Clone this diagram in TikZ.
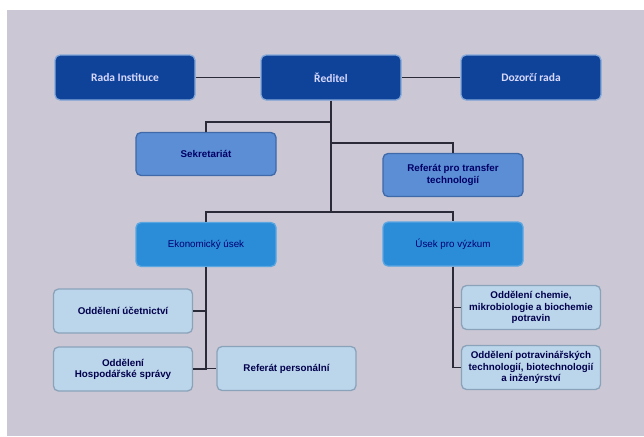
\documentclass[tikz,border=0pt]{standalone}
\usepackage{fontspec}
\setmainfont{Liberation Sans}
\newfontfamily\calibri{Carlito}
\usetikzlibrary{positioning}

\definecolor{bgcol}{HTML}{CBC7D5}
\definecolor{topfill}{HTML}{0E4399}
\definecolor{topline}{HTML}{86A9DA}
\definecolor{midfill}{HTML}{5B8ED4}
\definecolor{midline}{HTML}{3F69A8}
\definecolor{usekfill}{HTML}{2B8CD8}
\definecolor{usekline}{HTML}{5AA6E0}
\definecolor{lowfill}{HTML}{BBD5EA}
\definecolor{lowline}{HTML}{8AA3BA}
\definecolor{wire}{HTML}{2A2A38}

\tikzset{
  box/.style={rectangle, rounded corners=5pt, line width=1.3pt, align=center,
    font=\fontsize{9.8}{11.2}\selectfont\bfseries},
  topbox/.style={box, fill=topfill, draw=topline, text=white!85!blue,
    minimum width=140pt, minimum height=45pt, font=\calibri\fontsize{11.5}{13}\selectfont\bfseries},
  midbox/.style={box, fill=midfill, draw=midline, text=blue!40!black,
    minimum width=140pt, minimum height=43pt},
  usekbox/.style={box, fill=usekfill, draw=usekline, text=blue!45!black,
    minimum width=140pt, minimum height=44pt, font=\fontsize{9.8}{11.2}\selectfont},
  lowbox/.style={box, fill=lowfill, draw=lowline, text=blue!30!black,
    minimum width=139pt, minimum height=44pt, inner sep=2pt},
  wire/.style={draw=wire, line width=1.4pt}
}

\begin{document}
\begin{tikzpicture}[x=1pt, y=-1pt]
  \useasboundingbox (0,0) rectangle (644,436);
  \fill[white] (0,0) rectangle (644,436);
  \fill[bgcol] (7,10) rectangle (644,436);

  % vedeni
  \node[topbox] (rada) at (125,77.5) {Rada Instituce};
  \node[topbox] (reditel) at (331,77.5) {Ředitel};
  \node[topbox] (dozor) at (531,77.5) {Dozorčí rada};

  \node[midbox] (sekr) at (206,154) {Sekretariát};
  \node[midbox] (transfer) at (453,175) {Referát pro transfer\\technologií};

  \node[usekbox] (eko) at (206,244.5) {Ekonomický úsek};
  \node[usekbox] (vyzkum) at (453,244) {Úsek pro výzkum};

  % oddeleni
  \node[lowbox] (ucet) at (123,311) {Oddělení účetnictví};
  \node[lowbox] (hosp) at (123,369) {Oddělení\\Hospodářské správy};
  \node[lowbox] (perso) at (286.5,368.5) {Referát personální};
  \node[lowbox] (chemie) at (531,307.5) {Oddělení chemie,\\mikrobiologie a biochemie\\potravin};
  \node[lowbox] (potrav) at (531,367.5) {Oddělení potravinářských\\technologií, biotechnologií\\a inženýrství};

  \coordinate (jS) at (331,122);
  \coordinate (jT) at (331,143);
  \coordinate (jB) at (331,212);

  \draw[wire] (rada)--(reditel)--(dozor);
  \draw[wire] (reditel.south)--(jB);
  \draw[wire] (sekr.north) |- (jS);
  \draw[wire] (transfer.north) |- (jT);
  \draw[wire] (eko.north) |- (jB) -| (vyzkum.north);

  \draw[wire] (eko.south) |- (ucet.east);
  \draw[wire] (eko.south) |- (hosp.east);
  \draw[wire] (eko.south) |- (perso.west);
  \draw[wire] (vyzkum.south) |- (chemie.west);
  \draw[wire] (vyzkum.south) |- (potrav.west);
\end{tikzpicture}
\end{document}
